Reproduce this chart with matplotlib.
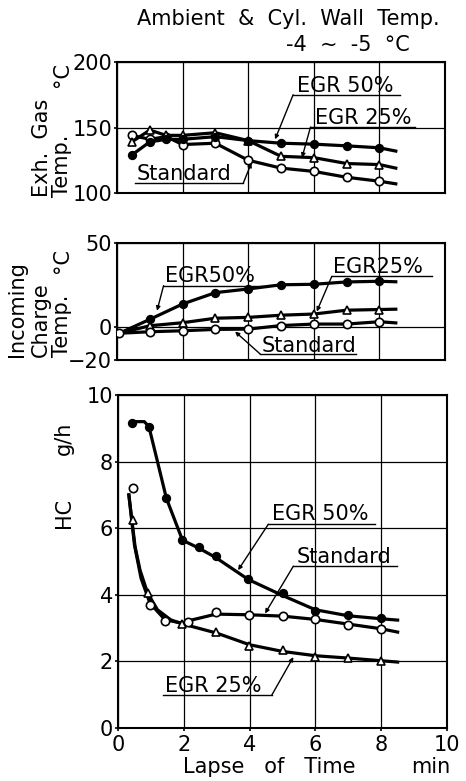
import numpy as np
import matplotlib.pyplot as plt

plt.rcParams['font.family'] = ['DejaVu Sans']

# --- Exhaust gas temperature (degC) ---
t_exh = [0.45, 1.0, 1.5, 2.0, 3.0, 4.0, 5.0, 6.0, 7.0, 8.0]
exh_std = [144, 141, 143, 137, 138, 125, 119, 116.5, 112, 109]
exh_egr25 = [139, 148, 144, 144, 146, 140, 128, 127, 122.5, 121.7]
exh_egr50 = [129, 139, 141, 141, 143, 140, 138, 137.3, 136, 134.5]
exh_end = [107, 119, 132]  # curve ends at t = 8.5

# --- Incoming charge temperature (degC) ---
t_chg = [0.07, 1, 2, 3, 4, 5, 6, 7, 8]
chg_std = [-4.0, -3.1, -2.5, -1.7, -1.5, 0.6, 1.5, 1.5, 2.9]
chg_egr25 = [-4.0, 0.5, 2.3, 5.0, 5.5, 6.8, 7.5, 9.8, 10.2]
chg_egr50 = [-4.0, 4.3, 13.5, 20.3, 22.5, 25.0, 25.3, 26.7, 27.1]
chg_end = [2.2, 10.4, 26.8]

# --- HC (g/h) markers ---
t_hc_std = [0.45, 0.97, 1.43, 2.14, 2.98, 3.99, 5.0, 5.99, 7.0, 8.0]
hc_std = [7.22, 3.69, 3.22, 3.19, 3.49, 3.38, 3.36, 3.26, 3.1, 2.96]
t_hc_25 = [0.45, 0.92, 1.94, 2.98, 3.99, 5.0, 5.99, 7.0, 8.0]
hc_25 = [6.25, 4.04, 3.12, 2.89, 2.46, 2.33, 2.13, 2.11, 2.0]
t_hc_50 = [0.44, 0.94, 1.47, 1.96, 2.46, 2.97, 3.96, 5.0, 5.99, 7.0, 8.0]
hc_50 = [9.15, 9.05, 6.9, 5.64, 5.44, 5.17, 4.46, 4.06, 3.52, 3.39, 3.29]

# --- HC faired curves as drawn ---
c_std_t = [0.33, 0.5, 0.7, 0.97, 1.43, 1.94, 2.14, 2.98, 3.99, 5.0, 6.0, 7.0, 8.0, 8.5]
c_std = [7.0, 5.5, 4.5, 3.75, 3.25, 3.15, 3.22, 3.42, 3.4, 3.36, 3.26, 3.12, 2.98, 2.88]
c_25_t = [0.33, 0.52, 0.67, 0.9, 1.2, 1.6, 1.94, 3.0, 4.0, 5.0, 6.0, 7.0, 8.0, 8.5]
c_25 = [7.0, 5.44, 4.74, 4.05, 3.55, 3.25, 3.13, 2.85, 2.5, 2.3, 2.17, 2.1, 2.02, 1.98]
c_50_t = [0.44, 0.8, 0.94, 1.2, 1.47, 1.96, 2.46, 2.97, 3.96, 5.0, 6.0, 7.0, 8.0, 8.5]
c_50 = [9.2, 9.2, 9.05, 8.0, 6.9, 5.64, 5.4, 5.12, 4.46, 3.98, 3.55, 3.37, 3.28, 3.24]

W, H = 466, 781
LW = 2.3
FS = 15


def fpos(px, py):
    return px / W, 1 - py / H


def style_axes(ax, yticks, ylim, show_x=False):
    ax.set_xlim(0, 10)
    ax.set_ylim(*ylim)
    ax.set_xticks(range(0, 11, 2))
    ax.set_yticks(yticks)
    ax.grid(True, color='black', lw=0.9)
    ax.set_axisbelow(True)
    for s in ax.spines.values():
        s.set_linewidth(1.5)
    ax.tick_params(axis='y', length=2, width=1.2, pad=1.5, labelsize=FS)
    if show_x:
        ax.tick_params(axis='x', length=2, width=1.2, pad=3, labelsize=FS)
    else:
        ax.tick_params(axis='x', length=0, labelbottom=False)


def tag(ax, text, tx, ty, ux0, ux1, uy, start, target):
    ax.text(tx, ty, text, fontsize=FS, va='baseline', ha='left')
    ax.plot([ux0, ux1], [uy, uy], color='black', lw=1.0)
    sx = ux0 if start == 'left' else ux1
    ax.annotate('', xy=target, xytext=(sx, uy),
                arrowprops=dict(arrowstyle='-|>', color='black', lw=1.0,
                                mutation_scale=6, shrinkA=0, shrinkB=0))


def series(ax, t, y, marker, face, ms, zorder=3):
    ax.plot(t, y, color='black', lw=0, marker=marker, ms=ms,
            mfc=face, mec='black', mew=1.2, zorder=zorder)


fig = plt.figure(figsize=(W / 100, H / 100), dpi=100)
fig.patch.set_facecolor('white')

# top panel
ax1 = fig.add_axes([117 / W, 1 - 193 / H, 328 / W, 131 / H])
style_axes(ax1, [100, 150, 200], (100, 200))
for y, end in zip([exh_std, exh_egr25, exh_egr50], exh_end):
    ax1.plot(t_exh + [8.5], y + [end], color='black', lw=LW, zorder=2)
series(ax1, t_exh, exh_std, 'o', 'white', 6)
series(ax1, t_exh, exh_egr25, '^', 'white', 6)
series(ax1, t_exh, exh_egr50, 'o', 'black', 5.5)
tag(ax1, 'EGR 50%', 5.49, 177, 5.37, 8.63, 175, 'left', (4.82, 141))
tag(ax1, 'EGR 25%', 6.04, 152.5, 5.9, 9.1, 150.4, 'left', (5.64, 127))
tag(ax1, 'Standard', 0.61, 110, 0.56, 3.85, 107.6, 'right', (4.1, 123))

# middle panel
ax2 = fig.add_axes([117 / W, 1 - 360 / H, 328 / W, 117 / H])
style_axes(ax2, [-20, 0, 50], (-20, 50))
for y, end in zip([chg_std, chg_egr25, chg_egr50], chg_end):
    ax2.plot(t_chg + [8.5], y + [end], color='black', lw=LW, zorder=2)
series(ax2, t_chg[1:], chg_egr25[1:], '^', 'white', 6)
series(ax2, t_chg[1:], chg_egr50[1:], 'o', 'black', 5.5)
series(ax2, t_chg, chg_std, 'o', 'white', 6)
tag(ax2, 'EGR50%', 1.47, 26.5, 1.42, 4.47, 24.5, 'left', (1.22, 9.5))
tag(ax2, 'EGR25%', 6.6, 32, 6.55, 9.6, 30.1, 'left', (6.09, 9.0))
tag(ax2, 'Standard', 4.42, -15, 4.37, 7.3, -16.5, 'left', (3.6, -3))

# bottom panel
ax3 = fig.add_axes([118 / W, 1 - 728 / H, 329 / W, 333 / H])
style_axes(ax3, range(0, 11, 2), (0, 10), show_x=True)
ax3.plot(c_std_t, c_std, color='black', lw=LW, zorder=2)
ax3.plot(c_25_t, c_25, color='black', lw=LW, zorder=2)
ax3.plot(c_50_t, c_50, color='black', lw=LW, zorder=2)
series(ax3, t_hc_std, hc_std, 'o', 'white', 6)
series(ax3, t_hc_25, hc_25, '^', 'white', 6)
series(ax3, t_hc_50, hc_50, 'o', 'black', 5.5)
tag(ax3, 'EGR 50%', 4.67, 6.24, 4.57, 7.82, 6.12, 'left', (3.65, 4.74))
tag(ax3, 'Standard', 5.43, 4.96, 5.33, 8.48, 4.86, 'left', (4.47, 3.44))
tag(ax3, 'EGR 25%', 1.42, 1.08, 1.37, 4.67, 0.98, 'right', (5.33, 2.13))

# titles and axis labels
fig.text(*fpos(440, 19), 'Ambient  &  Cyl.  Wall  Temp.', fontsize=FS,
         ha='right', va='center')
fig.text(*fpos(410, 45), '-4  ~  -5  °C', fontsize=FS, ha='right', va='center')

for x, yb, s in [(41.5, 197, 'Exh.  Gas'), (62, 197, 'Temp.'), (62, 87, '°C'),
                 (17.5, 357, 'Incoming'), (40.5, 357, 'Charge'),
                 (62.5, 357, 'Temp.'), (62, 273, '°C'),
                 (64, 528, 'HC'), (64, 455, 'g/h')]:
    fig.text(*fpos(x, yb), s, fontsize=FS, rotation=90, ha='center', va='bottom')

fig.text(*fpos(269, 767), 'Lapse   of   Time', fontsize=FS, ha='center', va='center')
fig.text(*fpos(431, 767), 'min', fontsize=FS, ha='center', va='center')

fig.savefig('out.png', dpi=100)
